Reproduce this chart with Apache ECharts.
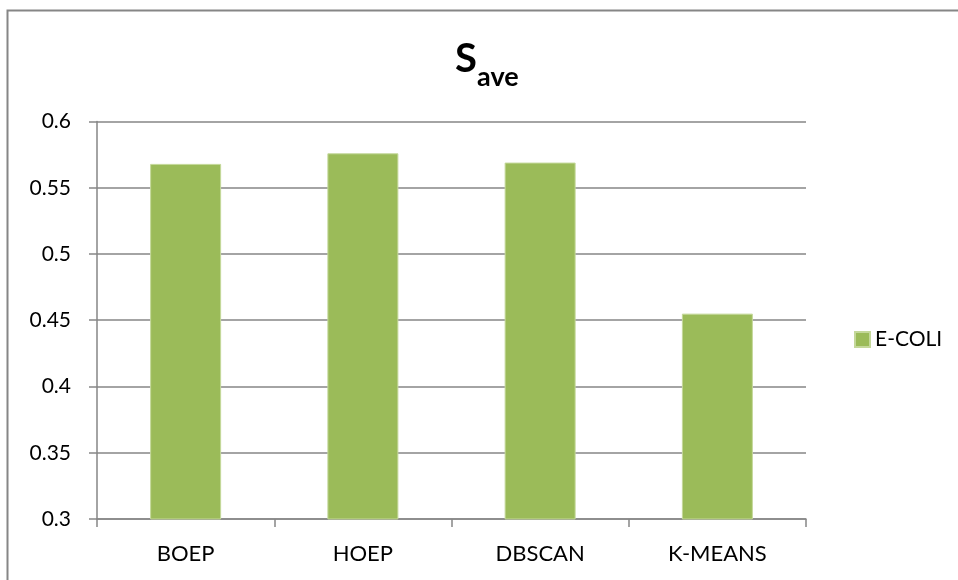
<!DOCTYPE html>
<html>
<head>
<meta charset="utf-8">
<script src="https://cdn.jsdelivr.net/npm/echarts@6/dist/echarts.min.js"></script>
<style>
  html, body { margin: 0; padding: 0; background: #fff; }
  #chart { width: 958px; height: 580px; }
</style>
</head>
<body>
<div id="chart"></div>
<script>
// Average silhouette score per clustering method on the E-COLI data set
const categories = ['BOEP', 'HOEP', 'DBSCAN', 'K-MEANS'];
const seriesName = 'E-COLI';
const sAveValues = [0.568, 0.576, 0.569, 0.455];
const yMin = 0.3;
const yMax = 0.6;
const yStep = 0.05;

const FONT = 'Lato, "Open Sans", sans-serif';
const GRAY = '#868686';
const GREEN = '#9BBB59';

const chart = echarts.init(document.getElementById('chart'));

chart.setOption({
  animation: false,
  backgroundColor: '#fff',
  textStyle: { fontFamily: FONT },
  graphic: [
    {
      type: 'rect',
      shape: { x: 7.5, y: 10.5, width: 1000, height: 700 },
      style: { fill: 'none', stroke: GRAY, lineWidth: 2 },
      silent: true
    },
    // title: S with subscript "ave"
    {
      type: 'text',
      x: 455, y: 39,
      style: {
        text: 'S', fontFamily: FONT, fontWeight: 'bold', fontSize: 40,
        fill: '#000', align: 'left', verticalAlign: 'top'
      }
    },
    {
      type: 'text',
      x: 477, y: 64,
      style: {
        text: 'ave', fontFamily: FONT, fontWeight: 'bold', fontSize: 27,
        fill: '#000', align: 'left', verticalAlign: 'top'
      }
    }
  ],
  grid: { left: 97, right: 152, top: 121.5, bottom: 61, containLabel: false },
  legend: {
    data: [seriesName],
    orient: 'vertical',
    left: 849,
    top: 324,
    itemWidth: 15,
    itemHeight: 15,
    itemGap: 8,
    icon: 'rect',
    textStyle: { fontFamily: FONT, fontSize: 21, color: '#000' }
  },
  xAxis: {
    type: 'category',
    data: categories,
    boundaryGap: true,
    axisLine: { lineStyle: { color: GRAY, width: 1.5 } },
    axisTick: { show: true, length: 8, alignWithLabel: false, lineStyle: { color: GRAY, width: 1.5 } },
    axisLabel: { color: '#000', fontFamily: FONT, fontSize: 22, margin: 24 },
    splitLine: { show: false }
  },
  yAxis: {
    type: 'value',
    min: yMin,
    max: yMax,
    interval: yStep,
    axisLine: { show: true, lineStyle: { color: GRAY, width: 1.5 } },
    axisTick: { show: true, length: 8, lineStyle: { color: GRAY, width: 1.5 } },
    axisLabel: {
      color: '#000', fontFamily: FONT, fontSize: 21, margin: 26,
      formatter: v => String(Number(v.toFixed(2)))
    },
    splitLine: { show: true, lineStyle: { color: GRAY, width: 1.5 } }
  },
  series: [
    {
      name: seriesName,
      type: 'bar',
      data: sAveValues,
      barWidth: 71,
      itemStyle: { color: GREEN, borderColor: '#c4d89a', borderWidth: 1 }
    }
  ]
});
</script>
</body>
</html>
